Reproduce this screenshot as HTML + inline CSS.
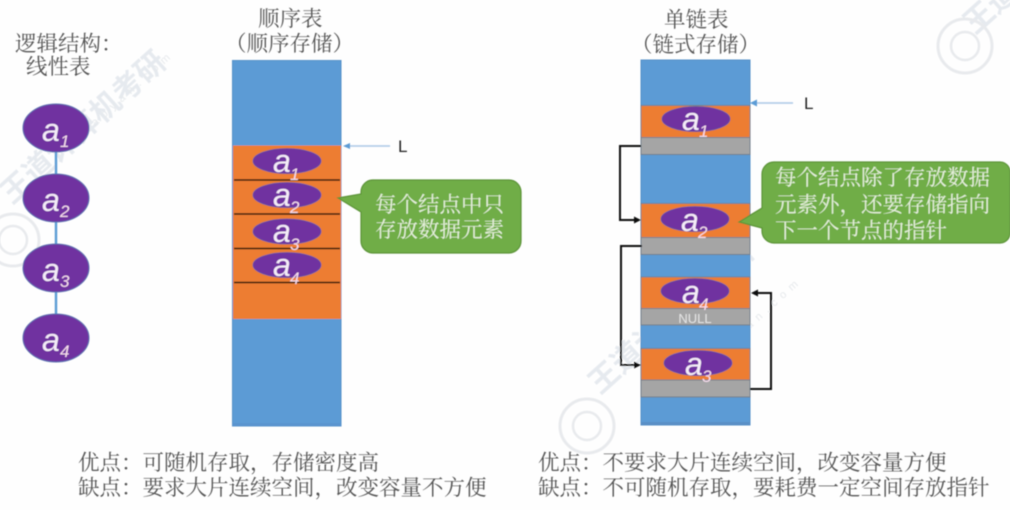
<!DOCTYPE html>
<html lang="zh">
<head>
<meta charset="utf-8">
<style>
html,body{margin:0;padding:0;background:#fff;width:1010px;height:510px;overflow:hidden}
svg{display:block}
.cn{font-family:"Noto Serif CJK SC","Liberation Serif",serif;font-size:21.5px;fill:#555}
.co{font-family:"Noto Serif CJK SC","Liberation Serif",serif;font-size:21.5px;fill:#e6f0dc}
.a{font-family:"Liberation Sans",sans-serif;font-style:italic;fill:#f4ecf8}
.s{font-family:"Liberation Sans",sans-serif;font-style:italic;fill:#f6dcec}
.wm{font-family:"Liberation Sans","Noto Sans CJK SC",sans-serif;font-weight:700;fill:#e6eaef}
.wms{font-family:"Liberation Sans",sans-serif;fill:#e6e9ec;font-size:11px;letter-spacing:6px}
</style>
</head>
<body>
<svg width="1010" height="510" viewBox="0 0 1010 510" xmlns="http://www.w3.org/2000/svg">
<defs>
<filter id="b" x="-5%" y="-5%" width="110%" height="110%"><feGaussianBlur stdDeviation="0.45"/></filter>
</defs>
<rect width="1010" height="510" fill="#fefefe"/>
<g filter="url(#b)">

<!-- watermarks -->
<g>
  <g transform="translate(12,205) rotate(-42)"><text class="wm" font-size="30" x="0" y="0">王道计算机考研</text></g>
  <g transform="translate(78,142) rotate(-42)"><text class="wms" x="0" y="0">skaoyan.com</text></g>
  <g transform="translate(600,395) rotate(-42)"><text class="wm" font-size="30" x="0" y="0">王道计算机考研</text></g>
  <g transform="translate(660,410) rotate(-42)"><text class="wms" x="0" y="0">www.cskaoyan.com</text></g>
  <g transform="translate(975,35) rotate(-42)"><text class="wm" font-size="30" x="0" y="0">王道</text></g>
  <g fill="none" stroke="#e8eaed">
    <circle cx="13" cy="240" r="26" stroke-width="3"/><circle cx="13" cy="240" r="14" stroke-width="2.5"/>
    <circle cx="587" cy="426" r="27" stroke-width="3"/><circle cx="587" cy="426" r="14" stroke-width="2.5"/>
    <circle cx="965" cy="46" r="27" stroke-width="3"/><circle cx="965" cy="46" r="14" stroke-width="2.5"/>
  </g>
</g>

<!-- left column -->
<text class="cn" x="15" y="51">逻辑结构&#xFF1A;</text>
<text class="cn" x="26" y="74">线性表</text>
<line x1="56" y1="150" x2="56" y2="320" stroke="#5b9bd5" stroke-width="2.4"/>
<g fill="#7030a0" stroke="#5a6fb0" stroke-width="1">
  <ellipse cx="56" cy="128" rx="33" ry="24"/>
  <ellipse cx="56" cy="198" rx="33" ry="24"/>
  <ellipse cx="56" cy="268" rx="33" ry="24"/>
  <ellipse cx="56" cy="338" rx="33" ry="24"/>
</g>
<text class="a" font-size="32" x="42" y="141">a</text><text class="s" font-size="17" x="60" y="147">1</text>
<text class="a" font-size="32" x="42" y="211">a</text><text class="s" font-size="17" x="60" y="217">2</text>
<text class="a" font-size="32" x="42" y="281">a</text><text class="s" font-size="17" x="60" y="287">3</text>
<text class="a" font-size="32" x="42" y="351">a</text><text class="s" font-size="17" x="60" y="357">4</text>

<!-- sequential -->
<text class="cn" x="258" y="26">顺序表</text>
<text class="cn" x="225" y="51">&#xFF08;顺序存储&#xFF09;</text>
<rect x="232.5" y="60.5" width="108.5" height="365.5" fill="#5b9bd5" stroke="#5590c8" stroke-width="1"/>
<rect x="232.5" y="423" width="108.5" height="3" fill="#5a94cf"/>
<rect x="233" y="145.5" width="108" height="173.5" fill="#ed7d31"/>
<g stroke="#2a1408" stroke-width="1.6">
  <line x1="234" y1="180" x2="340" y2="180"/>
  <line x1="234" y1="214" x2="340" y2="214"/>
  <line x1="234" y1="248.5" x2="340" y2="248.5"/>
  <line x1="234" y1="282.5" x2="340" y2="282.5"/>
</g>
<g fill="#7030a0" stroke="#5f5aa8" stroke-width="0.8">
  <ellipse cx="287" cy="161" rx="34" ry="12.5"/>
  <ellipse cx="287" cy="195" rx="34" ry="12.5"/>
  <ellipse cx="287" cy="231.5" rx="34" ry="12.5"/>
  <ellipse cx="287" cy="265" rx="34" ry="12.5"/>
</g>
<text class="a" font-size="32" x="273" y="172">a</text><text class="s" font-size="17" x="290" y="180">1</text>
<text class="a" font-size="32" x="273" y="206">a</text><text class="s" font-size="17" x="290" y="213">2</text>
<text class="a" font-size="32" x="273" y="242">a</text><text class="s" font-size="17" x="290" y="250">3</text>
<text class="a" font-size="32" x="273" y="276">a</text><text class="s" font-size="17" x="290" y="284">4</text>

<!-- L left -->
<line x1="390" y1="146" x2="349" y2="146" stroke="#a9c8e6" stroke-width="1.4"/>
<path d="M343 146l7-3v6z" fill="#5b9bd5"/>
<text x="398" y="152" font-family="Liberation Sans,sans-serif" font-size="17" fill="#222">L</text>

<!-- left callout -->
<path d="M373 180H509a12 12 0 0 1 12 12V241a12 12 0 0 1-12 12H373a12 12 0 0 1-12-12V212L338 198L361 194V192a12 12 0 0 1 12-12z" fill="#70ad47" stroke="#5c9338" stroke-width="1.2"/>
<text class="co" x="375" y="212">每个结点中只</text>
<text class="co" x="375" y="237">存放数据元素</text>

<!-- linked -->
<text class="cn" x="664" y="27">单链表</text>
<text class="cn" x="631" y="52">&#xFF08;链式存储&#xFF09;</text>
<rect x="641" y="60" width="109" height="365" fill="#5b9bd5" stroke="#5590c8" stroke-width="1"/>
<g stroke="#6f7f8c" stroke-width="1">
  <rect x="641" y="105.5" width="109" height="32" fill="#ed7d31"/>
  <rect x="641" y="137.5" width="109" height="17" fill="#a5a5a5"/>
  <rect x="641" y="203.5" width="109" height="34" fill="#ed7d31"/>
  <rect x="641" y="237.5" width="109" height="17" fill="#a5a5a5"/>
  <rect x="641" y="277" width="109" height="31.5" fill="#ed7d31"/>
  <rect x="641" y="308.5" width="109" height="16.5" fill="#a5a5a5"/>
  <rect x="641" y="348.5" width="109" height="31.5" fill="#ed7d31"/>
  <rect x="641" y="380" width="109" height="17" fill="#a5a5a5"/>
</g>
<rect x="641" y="422" width="109" height="3" fill="#5a8fc6"/>
<g fill="#7030a0" stroke="#5f5aa8" stroke-width="0.8">
  <ellipse cx="696" cy="119" rx="34" ry="12.5"/>
  <ellipse cx="695" cy="219" rx="34" ry="12.5"/>
  <ellipse cx="695" cy="291" rx="34" ry="12.5"/>
  <ellipse cx="698" cy="363" rx="34" ry="12.5"/>
</g>
<text class="a" font-size="32" x="682" y="130">a</text><text class="s" font-size="17" x="699" y="137">1</text>
<text class="a" font-size="32" x="681" y="231">a</text><text class="s" font-size="17" x="698" y="238">2</text>
<text class="a" font-size="32" x="682" y="303">a</text><text class="s" font-size="17" x="699" y="310">4</text>
<text class="a" font-size="32" x="685" y="375">a</text><text class="s" font-size="17" x="702" y="382">3</text>
<text x="695" y="323" text-anchor="middle" font-family="Liberation Sans,sans-serif" font-size="13" fill="#e4e4e4">NULL</text>

<!-- link arrows -->
<g fill="none" stroke="#111" stroke-width="2">
  <path d="M641 146H620V220H636"/>
  <path d="M642 246H621V365H636"/>
  <path d="M750 389H771V293H757"/>
</g>
<path d="M641 220l-7-3.5v7z" fill="#111"/>
<path d="M641 365l-7-3.5v7z" fill="#111"/>
<path d="M751 293l7-3.5v7z" fill="#111"/>

<!-- L right -->
<line x1="793" y1="103" x2="757" y2="103" stroke="#a9c8e6" stroke-width="1.4"/>
<path d="M750 103l7-3.5v7z" fill="#5b9bd5"/>
<text x="804" y="109" font-family="Liberation Sans,sans-serif" font-size="17" fill="#222">L</text>

<!-- right callout -->
<path d="M774 162H1000a10 10 0 0 1 10 10V233a10 10 0 0 1-10 10H774a12 12 0 0 1-12-12V228L739 222L762 208V174a12 12 0 0 1 12-12z" fill="#70ad47" stroke="#5c9338" stroke-width="1.2"/>
<text class="co" x="775" y="185">每个结点除了存放数据</text>
<text class="co" x="775" y="212">元素外&#xFF0C;还要存储指向</text>
<text class="co" x="775" y="238">下一个节点的指针</text>

<!-- bottom -->
<text class="cn" x="78" y="470">优点&#xFF1A;可随机存取&#xFF0C;存储密度高</text>
<text class="cn" x="78" y="495">缺点&#xFF1A;要求大片连续空间&#xFF0C;改变容量不方便</text>
<text class="cn" x="538" y="470">优点&#xFF1A;不要求大片连续空间&#xFF0C;改变容量方便</text>
<text class="cn" x="538" y="495">缺点&#xFF1A;不可随机存取&#xFF0C;要耗费一定空间存放指针</text>
</g>
</svg>
</body>
</html>
